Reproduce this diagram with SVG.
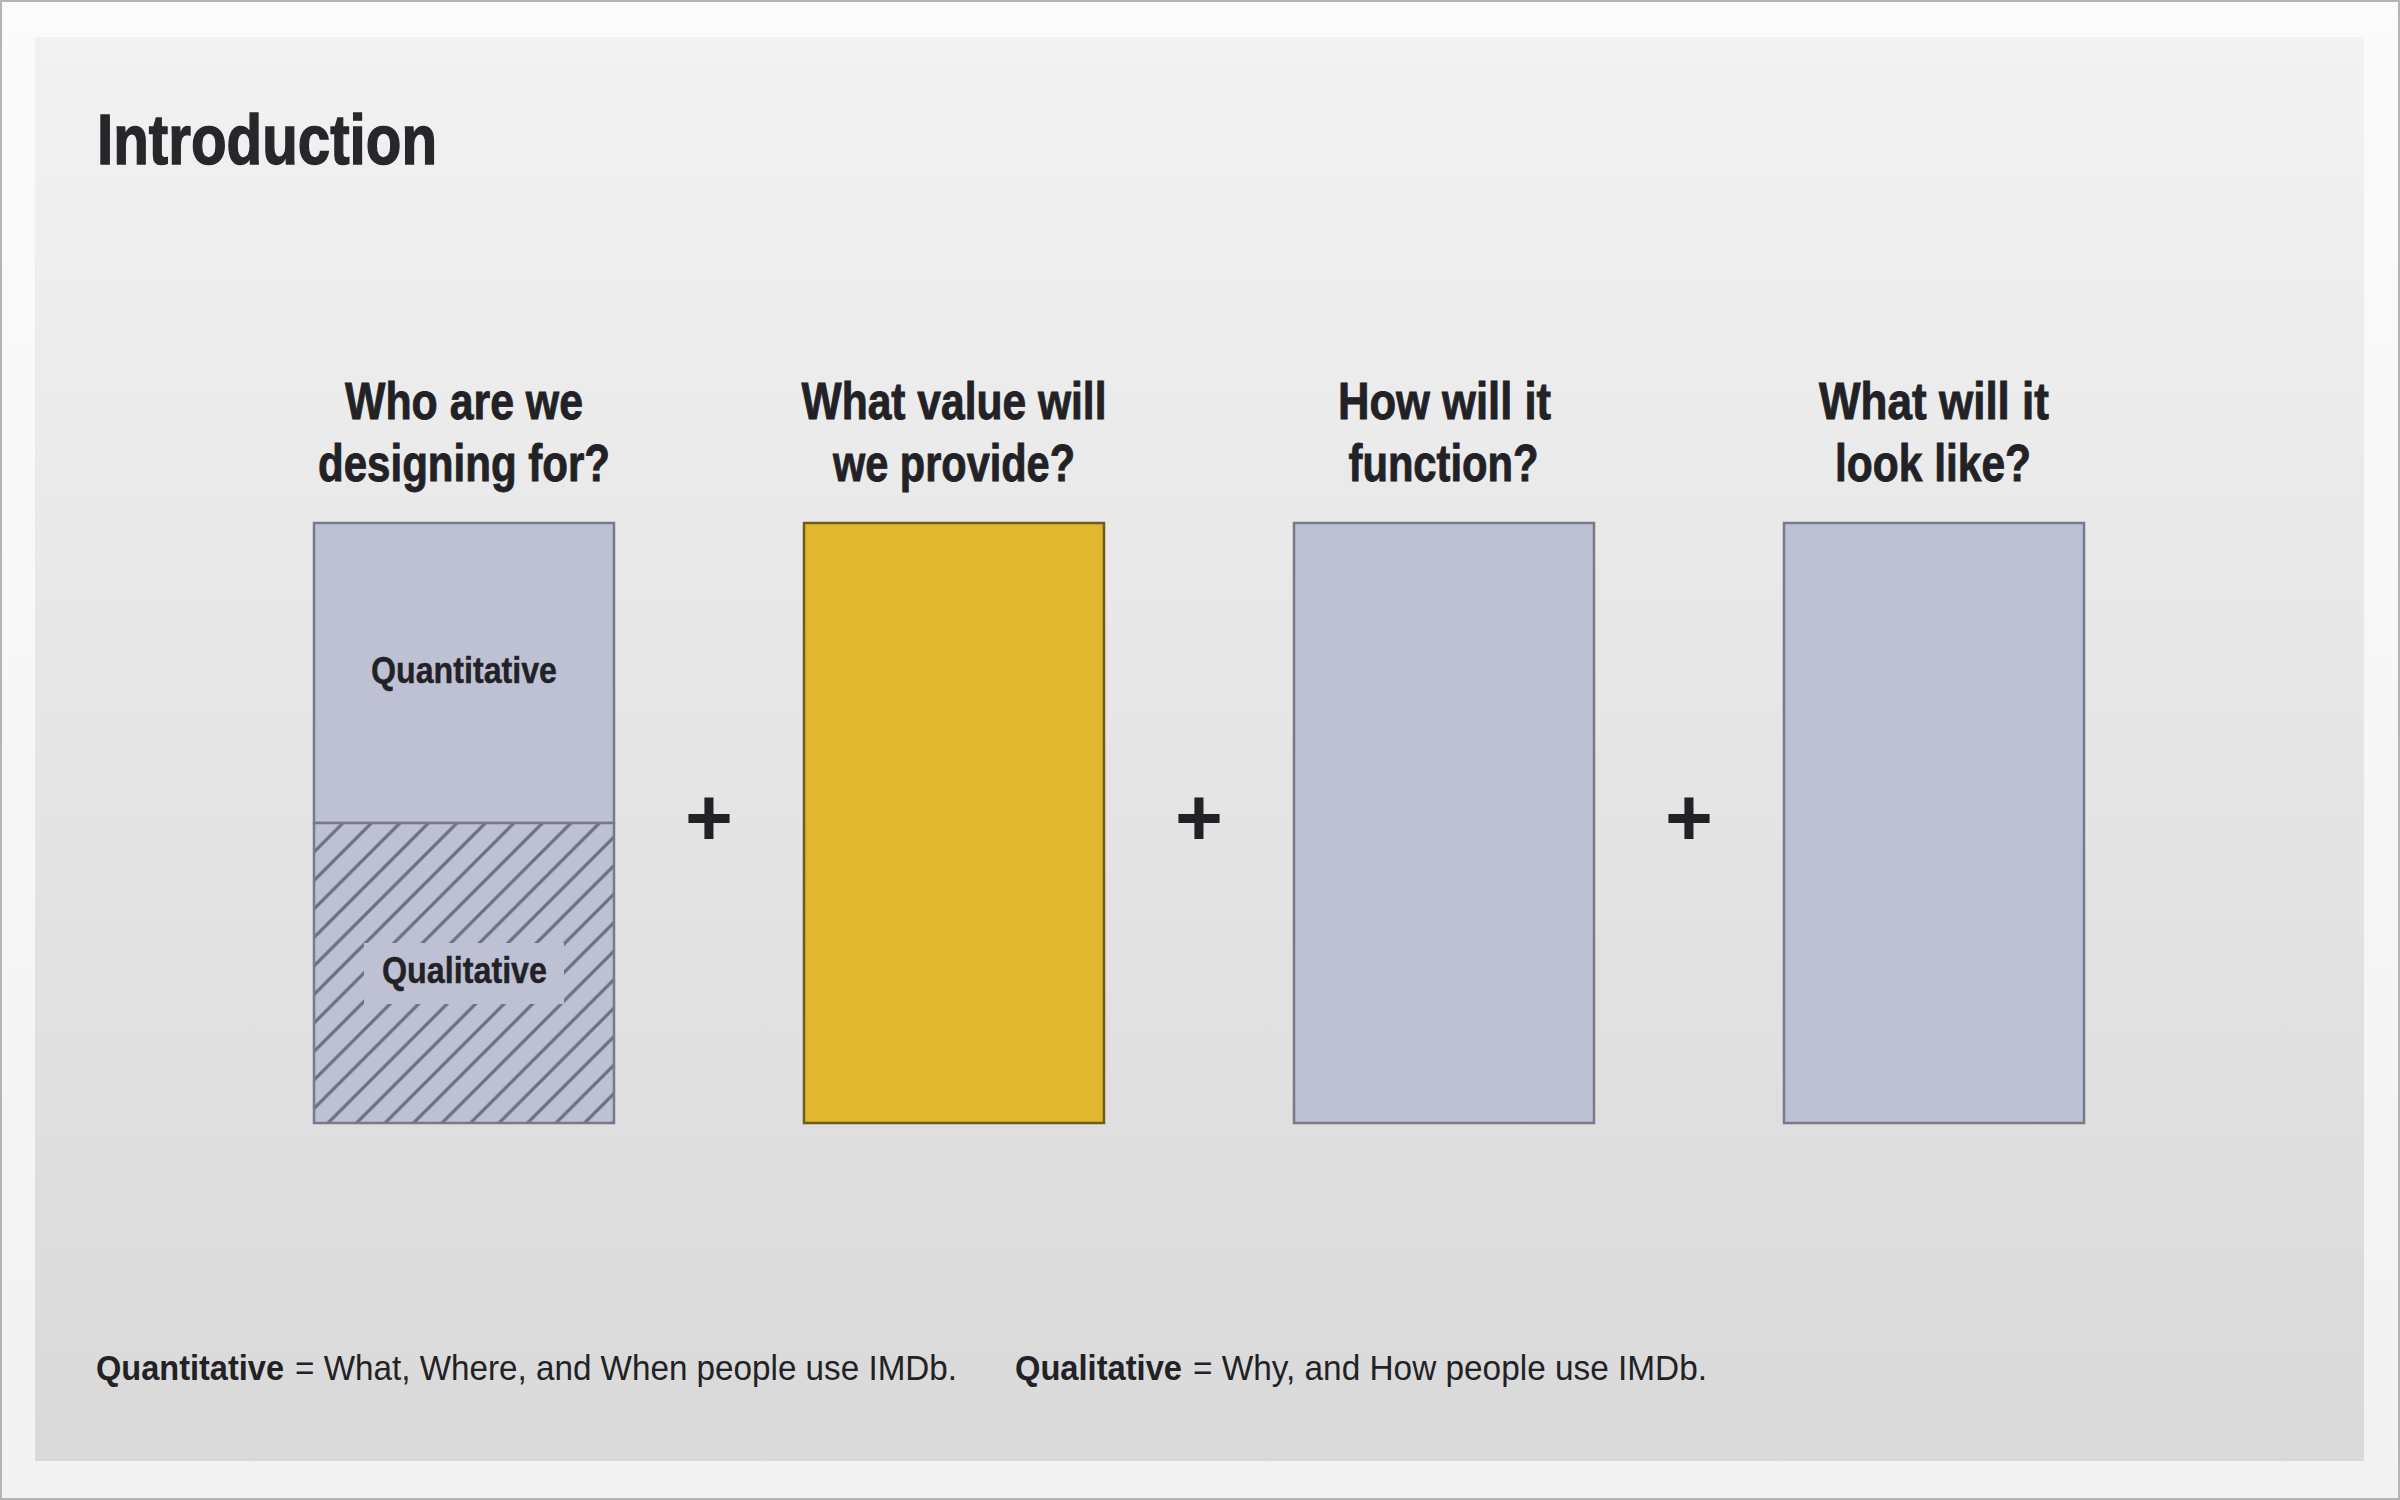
<svg xmlns="http://www.w3.org/2000/svg" width="2400" height="1500" viewBox="0 0 2400 1500">
<defs>
<linearGradient id="outerBg" x1="0" y1="0" x2="0" y2="1">
<stop offset="0" stop-color="#fbfbfb"/>
<stop offset="1" stop-color="#f2f2f2"/>
</linearGradient>
<linearGradient id="panelBg" x1="0" y1="0" x2="0" y2="1">
<stop offset="0" stop-color="#f2f2f2"/>
<stop offset="1" stop-color="#d9d9d9"/>
</linearGradient>
<pattern id="hatch" patternUnits="userSpaceOnUse" x="26" y="0" width="28.5" height="28.5">
<rect x="0" y="0" width="28.5" height="28.5" fill="#bec1d3"/>
<path d="M-2,30.5 L30.5,-2 M-8,8 L8,-8 M20.5,36.5 L36.5,20.5" stroke="#6c6f7c" stroke-width="3.2" fill="none"/>
</pattern>
</defs>
<style>
.head{font-family:"Liberation Sans",Arial,Helvetica,sans-serif;font-weight:bold;font-size:52px;fill:#222226;stroke:#222226;stroke-width:0.9px;text-anchor:middle}
.lbl{font-family:"Liberation Sans",Arial,Helvetica,sans-serif;font-weight:bold;font-size:36px;fill:#222226;stroke:#222226;stroke-width:0.4px;text-anchor:middle}
.col{fill:#bec1d3;stroke:#777a88;stroke-width:2.5}
.yel{fill:#e0b82e;stroke:#6e5c1c;stroke-width:2.5}
.plus{font-family:"Liberation Sans",Arial,Helvetica,sans-serif;font-weight:bold;font-size:82px;fill:#222226;text-anchor:middle}
.foot{font-family:"Liberation Sans",Arial,Helvetica,sans-serif;font-size:35px;fill:#222226}
.footb{font-family:"Liberation Sans",Arial,Helvetica,sans-serif;font-size:35px;font-weight:bold;fill:#222226}
</style>
<g id="background">
<rect x="1" y="1" width="2398" height="1498" fill="url(#outerBg)" stroke="#b4b4b4" stroke-width="2"/>
<rect x="35" y="37" width="2329" height="1424" fill="url(#panelBg)"/>
</g>
<g id="title">
<text x="97" y="164" font-family="'Liberation Sans',Arial,Helvetica,sans-serif" font-weight="bold" font-size="71" fill="#27272b" stroke="#27272b" stroke-width="1.4" textLength="340" lengthAdjust="spacingAndGlyphs">Introduction</text>
</g>
<g id="node-who">
<text class="head" x="464" y="419" textLength="238" lengthAdjust="spacingAndGlyphs">Who are we</text>
<text class="head" x="464" y="480.5" textLength="292" lengthAdjust="spacingAndGlyphs">designing for?</text>
<rect class="col" x="314" y="523" width="300" height="300"/>
<rect x="314" y="823" width="300" height="300" fill="url(#hatch)" stroke="#777a88" stroke-width="2.5"/>
<text class="lbl" x="464" y="683" textLength="186" lengthAdjust="spacingAndGlyphs">Quantitative</text>
<rect x="364" y="943" width="200" height="61" fill="#bec1d3"/>
<text class="lbl" x="464.5" y="983" textLength="165" lengthAdjust="spacingAndGlyphs">Qualitative</text>
</g>
<g id="node-value">
<text class="head" x="954" y="419" textLength="305" lengthAdjust="spacingAndGlyphs">What value will</text>
<text class="head" x="954" y="480.5" textLength="242" lengthAdjust="spacingAndGlyphs">we provide?</text>
<rect class="yel" x="804" y="523" width="300" height="600"/>
</g>
<g id="node-function">
<text class="head" x="1444.5" y="419" textLength="213" lengthAdjust="spacingAndGlyphs">How will it</text>
<text class="head" x="1443.5" y="480.5" textLength="190" lengthAdjust="spacingAndGlyphs">function?</text>
<rect class="col" x="1294" y="523" width="300" height="600"/>
</g>
<g id="node-look">
<text class="head" x="1934" y="419" textLength="230" lengthAdjust="spacingAndGlyphs">What will it</text>
<text class="head" x="1933" y="480.5" textLength="196" lengthAdjust="spacingAndGlyphs">look like?</text>
<rect class="col" x="1784" y="523" width="300" height="600"/>
</g>
<g id="connectors">
<text class="plus" x="709" y="845">+</text>
<text class="plus" x="1199" y="845">+</text>
<text class="plus" x="1689" y="845">+</text>
</g>
<g id="footnote">
<text class="footb" x="96" y="1380" textLength="188" lengthAdjust="spacingAndGlyphs">Quantitative</text>
<text class="foot" x="295" y="1380" textLength="662" lengthAdjust="spacingAndGlyphs">= What, Where, and When people use IMDb.</text>
<text class="footb" x="1015" y="1380" textLength="167" lengthAdjust="spacingAndGlyphs">Qualitative</text>
<text class="foot" x="1193" y="1380" textLength="514" lengthAdjust="spacingAndGlyphs">= Why, and How people use IMDb.</text>
</g>
</svg>
